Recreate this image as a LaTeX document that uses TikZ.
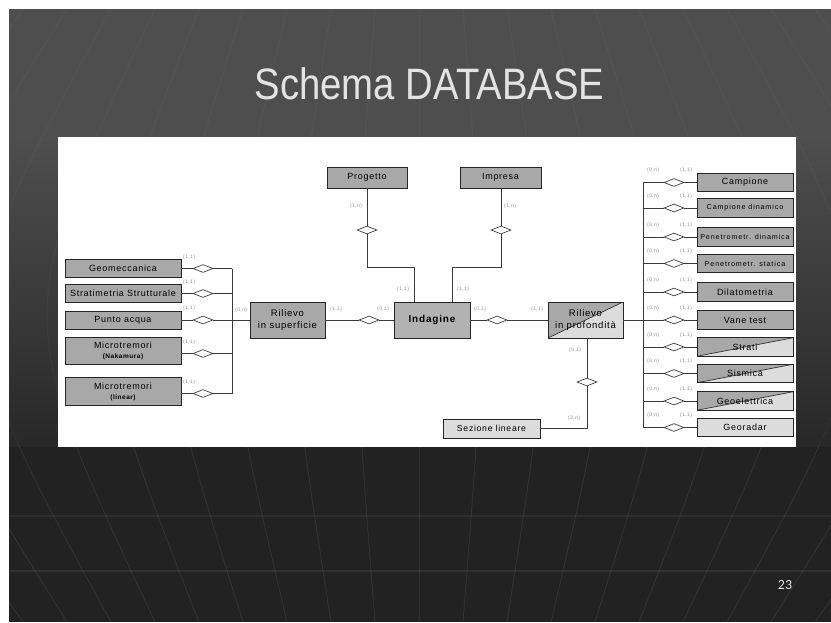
\documentclass[tikz,border=0pt]{standalone}
\usepackage{fontspec}
\setmainfont{Liberation Sans}
\newfontfamily\titlefont[FakeStretch=0.87]{Liberation Sans}
\newfontfamily\erfont[LetterSpace=8]{Liberation Sans}
\newfontfamily\erfontsmall[LetterSpace=12]{Liberation Sans}
\newfontfamily\numfont{Carlito}
\usetikzlibrary{shapes.geometric}

\definecolor{slidetop}{HTML}{4E4E4E}
\definecolor{slidemid}{HTML}{282828}
\definecolor{slidebot}{HTML}{222222}
\definecolor{titlecol}{HTML}{E3E3E3}
\definecolor{entfill}{HTML}{A8A8A8}
\definecolor{indfill}{HTML}{B2B2B2}
\definecolor{entlight}{HTML}{DCDCDC}
\definecolor{edgecol}{HTML}{3A3A3A}
\definecolor{cardcol}{HTML}{8C8C8C}

\tikzset{
  gridline/.style={draw=white, draw opacity=0.07, line width=1pt},
  gridfaint/.style={draw=white, draw opacity=0.03, line width=1pt},
  ent/.style={draw=black!85, line width=0.9pt, fill=entfill, inner sep=0pt,
    align=center, font=\erfont\fontsize{9}{11}\selectfont},
  entL/.style={ent, minimum width=116pt, minimum height=18pt},
  entR/.style={ent, minimum width=96pt, minimum height=18.5pt},
  entRsmall/.style={entR, font=\erfontsmall\fontsize{7.2}{8}\selectfont},
  lightent/.style={fill=entlight},
  splitent/.style={fill=entlight, path picture={
      \fill[entfill] (path picture bounding box.south west) --
        (path picture bounding box.north west) --
        (path picture bounding box.north east) -- cycle;
      \draw[black!80, line width=0.7pt] (path picture bounding box.south west) --
        (path picture bounding box.north east);}},
  rel/.style={diamond, draw=black!75, fill=white, line width=0.7pt,
    minimum width=20pt, minimum height=8pt, inner sep=0pt},
  conn/.style={draw=edgecol, line width=0.75pt},
  card/.style={font=\erfont\fontsize{5}{5}\selectfont, text=cardcol,
    inner sep=0pt, anchor=west},
}

\begin{document}
\begin{tikzpicture}[x=1pt,y=-1pt]
\useasboundingbox (0,0) rectangle (831,622);
\fill[white] (0,0) rectangle (831,622);

% slide background
\fill[slidetop] (9,9) rectangle (831,137);
\shade[top color=slidetop, bottom color=slidemid] (9,137) rectangle (831,447);
\fill[slidebot] (9,447) rectangle (831,622);

% perspective grid: faint on the upper part, clearer on the floor
\begin{scope}
  \clip (9,9) rectangle (831,447);
  \foreach \n in {-10,...,10}{
    \draw[gridfaint] ({419+44*\n},9) .. controls ({419+68*\n},315.5) .. ({419+44*\n},622);
  }
\end{scope}
\begin{scope}
  \clip (9,447) rectangle (831,622);
  \foreach \n in {-10,...,10}{
    \draw[gridline] ({419+44*\n},9) .. controls ({419+68*\n},315.5) .. ({419+44*\n},622);
  }
  \draw[gridline, draw opacity=0.05, line width=1.6pt] (9,516) -- (831,516);
  \draw[gridline, line width=1.6pt] (9,571) -- (831,571);
\end{scope}

% title and slide number
\node[font=\titlefont\fontsize{44}{44}\selectfont, text=titlecol, anchor=base, inner sep=0pt]
  (title) at (429.5,99) {Schema DATABASE};
\node[font=\numfont\fontsize{14}{14}\selectfont, text=white!88!black, anchor=base, inner sep=0pt]
  (pnum) at (785,589.5) {23};

% diagram panel
\fill[white] (58,137) rectangle (796,447);

% ---------- left entities ----------
\node[entL] (geo) at (123,268.5) {Geomeccanica};
\node[entL] (strat) at (123,293.5) {Stratimetria Strutturale};
\node[entL] (punto) at (123,320) {Punto acqua};
\node[entL, minimum height=27pt] (mnak) at (123,350.5)
  {Microtremori\\[-1pt]{\bfseries\fontsize{6.5}{7}\selectfont(Nakamura)}};
\node[entL, minimum height=28pt] (mlin) at (123,391.5)
  {Microtremori\\[-1pt]{\bfseries\fontsize{6.5}{7}\selectfont(linear)}};

\node[rel] (dgeo) at (203,268.5) {};
\node[rel] (dstrat) at (203,293.5) {};
\node[rel] (dpunto) at (203,320) {};
\node[rel] (dnak) at (203,353.5) {};
\node[rel] (dlin) at (203,393.5) {};

\coordinate (lbus) at (232,320);

\draw[conn] (geo) -- (dgeo);
\draw[conn] (strat) -- (dstrat);
\draw[conn] (punto) -- (dpunto);
\draw[conn] (mnak.east |- dnak) -- (dnak);
\draw[conn] (mlin.east |- dlin) -- (dlin);
\draw[conn] (dgeo) -- (dgeo -| lbus);
\draw[conn] (dstrat) -- (dstrat -| lbus);
\draw[conn] (dpunto) -- (dpunto -| lbus);
\draw[conn] (dnak) -- (dnak -| lbus);
\draw[conn] (dlin) -- (dlin -| lbus);
\draw[conn] (dgeo -| lbus) -- (dlin -| lbus);

\node[card] at (183,257) {(1,1)};
\node[card] at (183,282) {(1,1)};
\node[card] at (183,308.5) {(1,1)};
\node[card] at (183,342) {(1,1)};
\node[card] at (183,382) {(1,1)};
\node[card] at (235,310) {(0,n)};

% ---------- central entities ----------
\node[ent, minimum width=75pt, minimum height=36pt,
  font=\erfont\fontsize{9.5}{12.5}\selectfont] (rs) at (287.5,320) {Rilievo\\in superficie};
\node[ent, fill=indfill, minimum width=76pt, minimum height=36pt,
  font=\erfont\bfseries\fontsize{10}{12}\selectfont] (ind) at (432,320) {Indagine};
\node[ent, splitent, minimum width=75pt, minimum height=36pt,
  font=\erfont\fontsize{9.5}{12.5}\selectfont] (rp) at (585.5,320) {Rilievo\\in profondità};

\node[ent, minimum width=80pt, minimum height=21pt] (prog) at (367,177.5) {Progetto};
\node[ent, minimum width=81pt, minimum height=21pt] (imp) at (500.5,177.5) {Impresa};

\node[rel] (dprog) at (367,230) {};
\node[rel] (dimp) at (501,230) {};
\node[rel] (drs) at (369,320) {};
\node[rel] (drp) at (497,320) {};

\coordinate (pj) at (414,267);
\coordinate (ij) at (452,267);

\draw[conn] (lbus) -- (rs);
\draw[conn] (rs) -- (drs);
\draw[conn] (drs) -- (ind);
\draw[conn] (ind) -- (drp);
\draw[conn] (drp) -- (rp);
\draw[conn] (prog.south -| dprog) -- (dprog);
\draw[conn] (dprog.south) |- (pj) -- (pj |- ind.north);
\draw[conn] (imp.south -| dimp) -- (dimp);
\draw[conn] (dimp.south) |- (ij) -- (ij |- ind.north);

\node[card] at (350,206) {(1,n)};
\node[card] at (504,206) {(1,n)};
\node[card] at (397,289) {(1,1)};
\node[card] at (457,289) {(1,1)};
\node[card] at (330,309) {(1,1)};
\node[card] at (377,309) {(0,1)};
\node[card] at (474,309) {(0,1)};
\node[card] at (531,309) {(1,1)};

% ---------- Sezione lineare ----------
\node[ent, lightent, minimum width=97pt, minimum height=19pt,
  font=\erfont\fontsize{8.7}{10}\selectfont] (sez) at (491.5,428.5) {Sezione lineare};
\node[rel] (dsez) at (587,382) {};
\draw[conn] (dsez.north) -- (dsez |- rp.south);
\draw[conn] (dsez.south) |- (sez.east);
\node[card] at (569,350) {(0,1)};
\node[card] at (568,418) {(2,n)};

% ---------- right entities ----------
\node[entR] (camp) at (745,182.5) {Campione};
\node[entRsmall] (campd) at (745,208) {Campione dinamico};
\node[entRsmall] (pend) at (745,237) {Penetrometr. dinamica};
\node[entRsmall] (pens) at (745,263.5) {Penetrometr. statica};
\node[entR] (dilat) at (745,292) {Dilatometria};
\node[entR] (vane) at (745,320) {Vane test};
\node[entR, splitent] (strati) at (745,347) {Strati};
\node[entR, splitent] (sism) at (745,373.5) {Sismica};
\node[entR, splitent] (geoel) at (745,401) {Geoelettrica};
\node[entR, lightent] (geor) at (745,427.5) {Georadar};

\coordinate (rbus) at (643,320);
\draw[conn] (rp) -- (rbus);

\foreach \e/\y in {camp/182.5, campd/208, pend/237, pens/263.5, dilat/292,
                   vane/320, strati/347, sism/373.5, geoel/401, geor/427.5}{
  \node[rel] (d\e) at (674,\y) {};
  \draw[conn] (rbus |- d\e) -- (d\e);
  \draw[conn] (d\e) -- (\e);
  \node[card] at (647,\y-12) {(0,n)};
  \node[card] at (680,\y-12) {(1,1)};
}
\draw[conn] (rbus |- dcamp) -- (rbus |- dgeor);

\end{tikzpicture}
\end{document}
